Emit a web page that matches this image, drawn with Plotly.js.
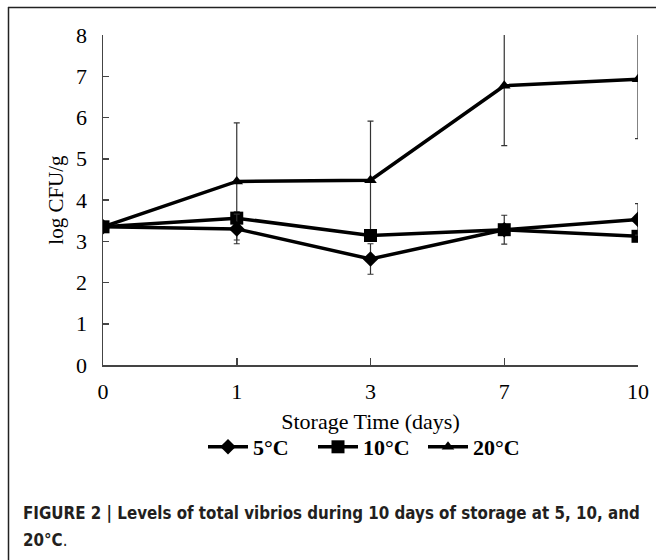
<!DOCTYPE html>
<html>
<head>
<meta charset="utf-8">
<script src="https://cdn.plot.ly/plotly-3.0.1.min.js"></script>
<style>html,body{margin:0;padding:0;background:#fff;}#chart{width:656px;height:560px;}</style>
</head>
<body>
<div id="chart"></div>
<script>
const days = ["0", "1", "3", "7", "10"];
const series5 = [3.35, 3.30, 2.57, 3.28, 3.53];
const err5 = [0, 0.36, 0.37, 0.35, 0.38];
const series10 = [3.35, 3.56, 3.14, 3.28, 3.12];
const err10 = [0, 0.15, 0.12, 0.1, 0.08];
const series20 = [3.35, 4.45, 4.48, 6.77, 6.93];
const err20 = [0, 1.42, 1.43, 1.45, 1.44];
const names = ["5°C", "10°C", "20°C"];

const L = 103, R = 18, T = 35, B = 195, W = 656, H = 560;
const pw = W - L - R, ph = H - T - B;
const px = v => (v - L) / pw;
const py = v => (H - B - v) / ph;
const serif = 'Liberation Serif, Times New Roman, serif';
const cond = 'DejaVu Sans Condensed, Liberation Sans Narrow, Arial Narrow, sans-serif';

function tr(y, e, name, sym, size) {
  return {
    x: days, y: y, name: name, type: 'scatter', mode: 'lines+markers',
    line: {color: '#000', width: 3.5},
    marker: {symbol: sym, size: size, color: '#000'},
    error_y: {type: 'data', array: e, visible: true, color: '#333', thickness: 1.2, width: 3}
  };
}
const data = [
  tr(series20, err20, names[2], 'triangle-up', 11),
  tr(series10, err10, names[1], 'square', 13),
  tr(series5, err5, names[0], 'diamond', 12)
];
const layout = {
  width: W, height: H,
  margin: {l: L, r: R, t: T, b: B},
  paper_bgcolor: '#fff', plot_bgcolor: '#fff',
  showlegend: true,
  legend: {orientation: 'h', traceorder: 'reversed', x: px(368), xanchor: 'center', y: py(447), yanchor: 'middle',
    font: {family: serif, size: 22, color: '#000', weight: 'bold'},
    entrywidth: 55, entrywidthmode: 'pixels', itemwidth: 40},
  xaxis: {type: 'category', range: [0, 4], showgrid: false, zeroline: false,
    showline: true, linecolor: '#444', linewidth: 1.5,
    ticks: 'inside', ticklen: 7, tickcolor: '#444', tickwidth: 1.5,
    ticklabelstandoff: 6,
    tickfont: {family: serif, size: 22, color: '#000'},
    title: {text: 'Storage Time (days)', standoff: 10, font: {family: serif, size: 22, color: '#000'}}},
  yaxis: {range: [0, 8], dtick: 1, showgrid: false, zeroline: false,
    showline: true, linecolor: '#444', linewidth: 1.5,
    ticks: 'inside', ticklen: 6, tickcolor: '#444', tickwidth: 1.5,
    ticklabelstandoff: 10,
    tickfont: {family: serif, size: 22, color: '#000'},
    title: {text: 'log CFU/g', standoff: 6, font: {family: serif, size: 21, color: '#000'}}},
  shapes: [
    {type: 'line', xref: 'paper', yref: 'paper', x0: px(8), x1: px(660), y0: py(7.5), y1: py(7.5), line: {color: '#222', width: 1.5}},
    {type: 'line', xref: 'paper', yref: 'paper', x0: px(8.5), x1: px(8.5), y0: py(7), y1: py(562), line: {color: '#222', width: 1.5}}
  ],
  annotations: [
    {xref: 'paper', yref: 'paper', x: px(21), y: py(513), xanchor: 'left', yanchor: 'middle', showarrow: false,
     text: '<b>FIGURE 2 | Levels of total vibrios during 10 days of storage at 5, 10, and</b>',
     font: {family: cond, size: 16.8, color: '#231f20'}},
    {xref: 'paper', yref: 'paper', x: px(21), y: py(540), xanchor: 'left', yanchor: 'middle', showarrow: false,
     text: '<b>20°C</b>.',
     font: {family: cond, size: 16.8, color: '#231f20'}}
  ]
};
Plotly.newPlot('chart', data, layout, {displayModeBar: false, staticPlot: true});
</script>
</body>
</html>
